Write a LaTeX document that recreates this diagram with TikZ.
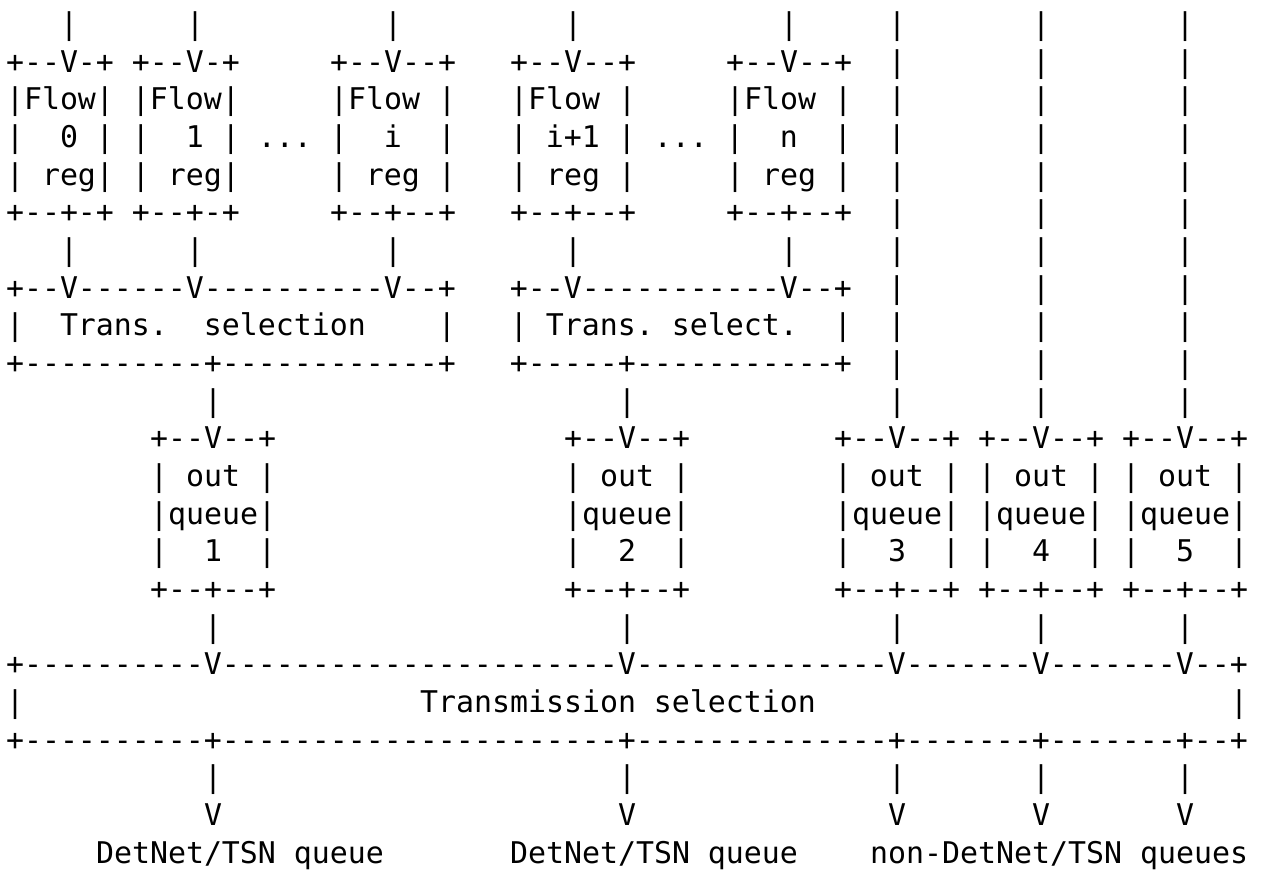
\documentclass[tikz,border=0pt]{standalone}
\usepackage{fontspec}
\setmonofont{DejaVu Sans Mono}
% one character cell of the monospaced grid
\newlength\cw
\setlength\cw{18pt}
\newcommand\gap[1]{\hspace*{#1\cw}}
\ExplSyntaxOn
\NewDocumentCommand\dashes{m}{\prg_replicate:nn{#1}{-}}
\ExplSyntaxOff
\tikzset{
  asciirow/.style={anchor=base west, inner sep=0pt, outer sep=0pt,
    font=\ttfamily\fontsize{29.9pt}{37.65pt}\selectfont, text=black},
}
% baseline of text row #1
\newcommand\ry[1]{838.3-37.65*#1}
\begin{document}
\begin{tikzpicture}[x=1pt,y=1pt]
\useasboundingbox[fill=white] (0,0) rectangle (1265,873);

% per-flow regulators
\node[asciirow] (r0) at (6,{\ry{0}}) {\gap{3}|\gap{6}|\gap{10}|\gap{9}|\gap{11}|\gap{5}|\gap{7}|\gap{7}|};
\node[asciirow] (r1) at (6,{\ry{1}}) {+--V-+\gap{1}+--V-+\gap{5}+--V--+\gap{3}+--V--+\gap{5}+--V--+\gap{2}|\gap{7}|\gap{7}|};
\node[asciirow] (r2) at (6,{\ry{2}}) {|Flow|\gap{1}|Flow|\gap{5}|Flow\gap{1}|\gap{3}|Flow\gap{1}|\gap{5}|Flow\gap{1}|\gap{2}|\gap{7}|\gap{7}|};
\node[asciirow] (r3) at (6,{\ry{3}}) {|\gap{2}0\gap{1}|\gap{1}|\gap{2}1\gap{1}|\gap{1}...\gap{1}|\gap{2}i\gap{2}|\gap{3}|\gap{1}i+1\gap{1}|\gap{1}...\gap{1}|\gap{2}n\gap{2}|\gap{2}|\gap{7}|\gap{7}|};
\node[asciirow] (r4) at (6,{\ry{4}}) {|\gap{1}reg|\gap{1}|\gap{1}reg|\gap{5}|\gap{1}reg\gap{1}|\gap{3}|\gap{1}reg\gap{1}|\gap{5}|\gap{1}reg\gap{1}|\gap{2}|\gap{7}|\gap{7}|};
\node[asciirow] (r5) at (6,{\ry{5}}) {+--+-+\gap{1}+--+-+\gap{5}+--+--+\gap{3}+--+--+\gap{5}+--+--+\gap{2}|\gap{7}|\gap{7}|};
\node[asciirow] (r6) at (6,{\ry{6}}) {\gap{3}|\gap{6}|\gap{10}|\gap{9}|\gap{11}|\gap{5}|\gap{7}|\gap{7}|};

% transmission selection per group
\node[asciirow] (r7) at (6,{\ry{7}}) {+\dashes{2}V\dashes{6}V\dashes{10}V\dashes{2}+\gap{3}+\dashes{2}V\dashes{11}V\dashes{2}+\gap{2}|\gap{7}|\gap{7}|};
\node[asciirow] (r8) at (6,{\ry{8}}) {|\gap{2}Trans.\gap{2}selection\gap{4}|\gap{3}|\gap{1}Trans.\gap{1}select.\gap{2}|\gap{2}|\gap{7}|\gap{7}|};
\node[asciirow] (r9) at (6,{\ry{9}}) {+\dashes{10}+\dashes{12}+\gap{3}+\dashes{5}+\dashes{11}+\gap{2}|\gap{7}|\gap{7}|};
\node[asciirow] (r10) at (6,{\ry{10}}) {\gap{11}|\gap{22}|\gap{14}|\gap{7}|\gap{7}|};

% output queues
\node[asciirow] (r11) at (6,{\ry{11}}) {\gap{8}+--V--+\gap{16}+--V--+\gap{8}+--V--+\gap{1}+--V--+\gap{1}+--V--+};
\node[asciirow] (r12) at (6,{\ry{12}}) {\gap{8}|\gap{1}out\gap{1}|\gap{16}|\gap{1}out\gap{1}|\gap{8}|\gap{1}out\gap{1}|\gap{1}|\gap{1}out\gap{1}|\gap{1}|\gap{1}out\gap{1}|};
\node[asciirow] (r13) at (6,{\ry{13}}) {\gap{8}|queue|\gap{16}|queue|\gap{8}|queue|\gap{1}|queue|\gap{1}|queue|};
\node[asciirow] (r14) at (6,{\ry{14}}) {\gap{8}|\gap{2}1\gap{2}|\gap{16}|\gap{2}2\gap{2}|\gap{8}|\gap{2}3\gap{2}|\gap{1}|\gap{2}4\gap{2}|\gap{1}|\gap{2}5\gap{2}|};
\node[asciirow] (r15) at (6,{\ry{15}}) {\gap{8}+--+--+\gap{16}+--+--+\gap{8}+--+--+\gap{1}+--+--+\gap{1}+--+--+};
\node[asciirow] (r16) at (6,{\ry{16}}) {\gap{11}|\gap{22}|\gap{14}|\gap{7}|\gap{7}|};

% port transmission selection
\node[asciirow] (r17) at (6,{\ry{17}}) {+\dashes{10}V\dashes{22}V\dashes{14}V\dashes{7}V\dashes{7}V\dashes{2}+};
\node[asciirow] (r18) at (6,{\ry{18}}) {|\gap{22}Transmission\gap{1}selection\gap{23}|};
\node[asciirow] (r19) at (6,{\ry{19}}) {+\dashes{10}+\dashes{22}+\dashes{14}+\dashes{7}+\dashes{7}+\dashes{2}+};
\node[asciirow] (r20) at (6,{\ry{20}}) {\gap{11}|\gap{22}|\gap{14}|\gap{7}|\gap{7}|};
\node[asciirow] (r21) at (6,{\ry{21}}) {\gap{11}V\gap{22}V\gap{14}V\gap{7}V\gap{7}V};
\node[asciirow] (r22) at (6,{\ry{22}}) {\gap{5}DetNet/TSN\gap{1}queue\gap{7}DetNet/TSN\gap{1}queue\gap{4}non-DetNet/TSN\gap{1}queues};
\end{tikzpicture}
\end{document}
